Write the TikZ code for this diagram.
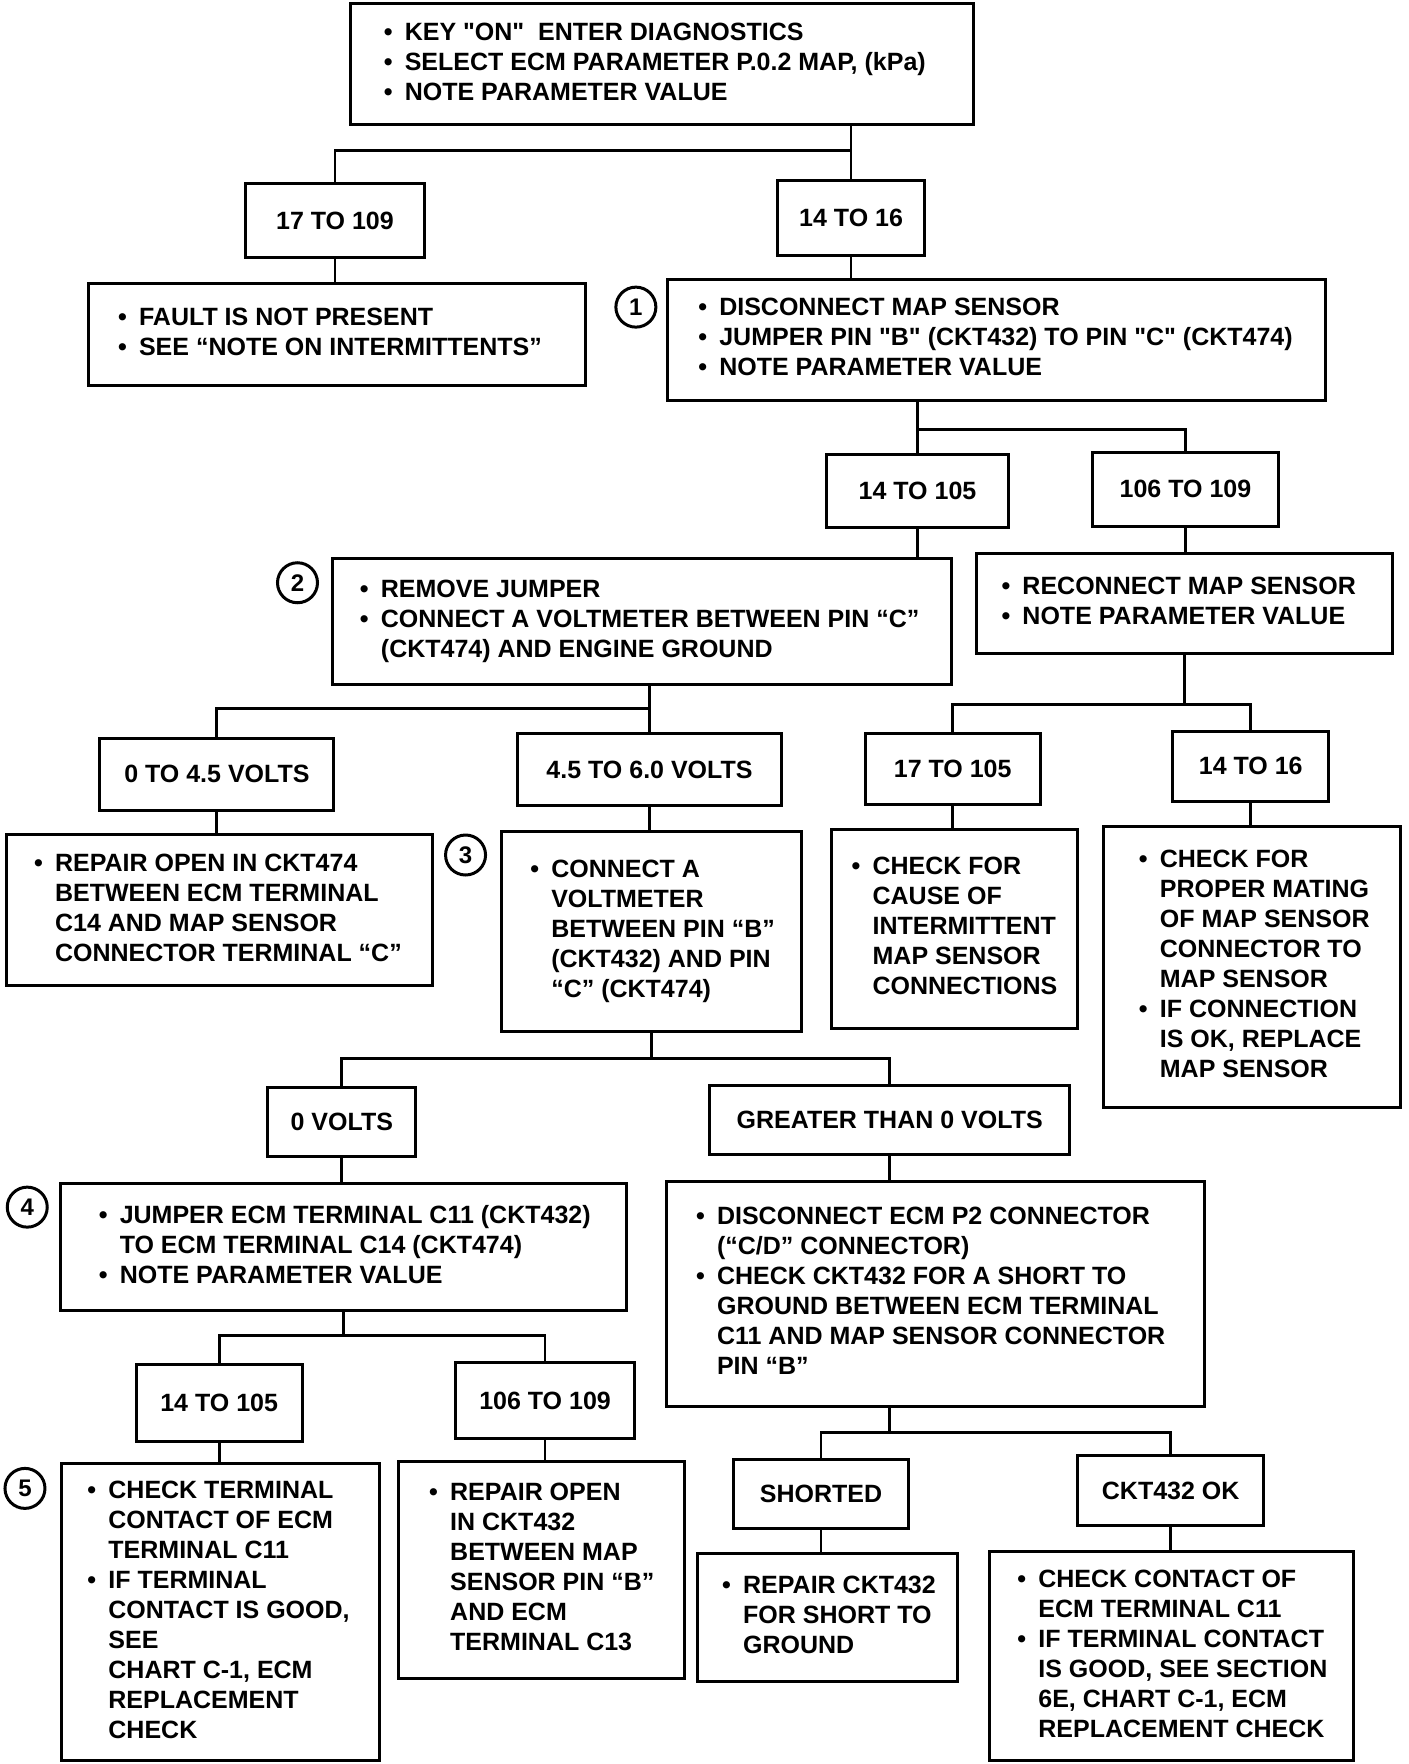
\documentclass[tikz,border=0pt]{standalone}
\usepackage{fontspec}
\setmainfont{Liberation Sans}
\usepackage{tikz}

\newcommand{\bul}{\makebox[21pt][l]{\textbullet}}
\newcommand{\ind}{\hspace*{21pt}}
\newcommand{\sq}{\textquotedbl}
\newcommand{\chartbox}[7]{%
  \pgfmathsetmacro{\cbw}{(#4-#2)*1.1355}%
  \pgfmathsetmacro{\cbh}{(#5-#3)*1.125}%
  \pgfmathsetmacro{\cbi}{#6*1.1355}%
  \pgfmathsetmacro{\cbt}{\cbw-2*\cbi}%
  \node[box, minimum width=\cbw pt, minimum height=\cbh pt, inner xsep=\cbi pt] (#1) at ({(#2+#4)/2},{(#3+#5)/2})
    {\makebox[\cbt pt][l]{\begin{tabular}{@{}l@{}}#7\end{tabular}}};}
\newcommand{\rangebox}[6]{%
  \pgfmathsetmacro{\cbw}{(#4-#2)*1.1355}%
  \pgfmathsetmacro{\cbh}{(#5-#3)*1.125}%
  \node[box, minimum width=\cbw pt, minimum height=\cbh pt] (#1) at ({(#2+#4)/2},{(#3+#5)/2}) {#6};}

\begin{document}
\begin{tikzpicture}[x=1.1355pt, y=-1.125pt,
                    box/.style={draw, line width=3pt, inner ysep=0pt,
                                font=\bfseries\fontsize{25}{30}\selectfont},
                    link/.style={line width=2.8pt},
                    numcirc/.style={draw, circle, line width=3pt, minimum size=40pt, inner sep=0pt,
                                    font=\bfseries\fontsize{24}{24}\selectfont}]
\useasboundingbox (0,0) rectangle (1240,1568);

\chartbox{A}{309}{3}{857}{111}{29}{\bul KEY \sq ON\sq\ \ ENTER DIAGNOSTICS\\ \bul SELECT ECM PARAMETER P.0.2 MAP, (kPa)\\ \bul NOTE PARAMETER VALUE}
\rangebox{r17a}{216}{163}{374}{229}{17 TO 109}
\rangebox{r14a}{685}{160}{814}{227}{14 TO 16}
\chartbox{B1}{78}{252}{516}{343}{26}{\bul FAULT IS NOT PRESENT\\ \bul SEE ``NOTE ON INTERMITTENTS''}
\chartbox{C}{588}{248}{1167}{356}{27}{\bul DISCONNECT MAP SENSOR\\ \bul JUMPER PIN \sq B\sq\ (CKT432) TO PIN \sq C\sq\ (CKT474)\\ \bul NOTE PARAMETER VALUE}
\node[numcirc] (num1) at (560,273) {1};

\rangebox{r14b}{728}{404}{888}{469}{14 TO 105}
\rangebox{r106a}{962}{402}{1126}{468}{106 TO 109}
\chartbox{D}{293}{496}{838}{608}{24}{\bul REMOVE JUMPER\\ \bul CONNECT A VOLTMETER BETWEEN PIN ``C''\\ \ind (CKT474) AND ENGINE GROUND}
\node[numcirc] (num2) at (262,518) {2};
\chartbox{E}{860}{492}{1226}{581}{22}{\bul RECONNECT MAP SENSOR\\ \bul NOTE PARAMETER VALUE}

\rangebox{r0a}{88}{656}{294}{720}{0 TO 4.5 VOLTS}
\rangebox{r45}{456}{652}{688}{716}{4.5 TO 6.0 VOLTS}
\rangebox{r17b}{762}{652}{916}{715}{17 TO 105}
\rangebox{r14c}{1033}{650}{1170}{712}{14 TO 16}

\chartbox{R474}{6}{742}{381}{876}{24}{\bul REPAIR OPEN IN CKT474\\ \ind BETWEEN ECM TERMINAL\\ \ind C14 AND MAP SENSOR\\ \ind CONNECTOR TERMINAL ``C''}
\chartbox{B3}{442}{739}{706}{917}{25}{\bul CONNECT A\\ \ind VOLTMETER\\ \ind BETWEEN PIN ``B''\\ \ind (CKT432) AND PIN\\ \ind ``C'' (CKT474)}
\node[numcirc] (num3) at (410,760) {3};
\chartbox{cause}{732}{737}{949}{914}{18}{\bul CHECK FOR\\ \ind CAUSE OF\\ \ind INTERMITTENT\\ \ind MAP SENSOR\\ \ind CONNECTIONS}
\chartbox{mating}{972}{735}{1233}{984}{31}{\bul CHECK FOR\\ \ind PROPER MATING\\ \ind OF MAP SENSOR\\ \ind CONNECTOR TO\\ \ind MAP SENSOR\\ \bul IF CONNECTION\\ \ind IS OK, REPLACE\\ \ind MAP SENSOR}

\rangebox{r0v}{236}{967}{366}{1028}{0 VOLTS}
\rangebox{rgt}{625}{965}{942}{1026}{GREATER THAN 0 VOLTS}
\chartbox{B4}{53}{1052}{552}{1165}{34}{\bul JUMPER ECM TERMINAL C11 (CKT432)\\ \ind TO ECM TERMINAL C14 (CKT474)\\ \bul NOTE PARAMETER VALUE}
\node[numcirc] (num4) at (24,1073) {4};
\chartbox{F}{587}{1050}{1061}{1250}{26}{\bul DISCONNECT ECM P2 CONNECTOR\\ \ind (``C/D'' CONNECTOR)\\ \bul CHECK CKT432 FOR A SHORT TO\\ \ind GROUND BETWEEN ECM TERMINAL\\ \ind C11 AND MAP SENSOR CONNECTOR\\ \ind PIN ``B''}

\rangebox{r14d}{120}{1213}{266}{1281}{14 TO 105}
\rangebox{r106b}{401}{1211}{559}{1279}{106 TO 109}
\rangebox{rsh}{646}{1297}{800}{1359}{SHORTED}
\rangebox{rok}{949}{1294}{1113}{1356}{CKT432 OK}

\chartbox{B5}{54}{1301}{334}{1565}{23}{\bul CHECK TERMINAL\\ \ind CONTACT OF ECM\\ \ind TERMINAL C11\\ \bul IF TERMINAL\\ \ind CONTACT IS GOOD,\\ \ind SEE\\ \ind CHART C-1, ECM\\ \ind REPLACEMENT\\ \ind CHECK}
\node[numcirc] (num5) at (22,1323) {5};
\chartbox{R432}{351}{1299}{603}{1492}{27}{\bul REPAIR OPEN\\ \ind IN CKT432\\ \ind BETWEEN MAP\\ \ind SENSOR PIN ``B''\\ \ind AND ECM\\ \ind TERMINAL C13}
\chartbox{RS}{614}{1381}{843}{1495}{22}{\bul REPAIR CKT432\\ \ind FOR SHORT TO\\ \ind GROUND}
\chartbox{last}{871}{1379}{1192}{1565}{25}{\bul CHECK CONTACT OF\\ \ind ECM TERMINAL C11\\ \bul IF TERMINAL CONTACT\\ \ind IS GOOD, SEE SECTION\\ \ind 6E, CHART C-1, ECM\\ \ind REPLACEMENT CHECK}

\draw[link] (A.south -| r14a.north) -- (r14a.north);
\draw[link] (r17a.north) |- (r14a.north |- 0,134);
\draw[link] (r17a.south) -- (r17a.south |- B1.north);
\draw[link] (r14a.south) -- (r14a.south |- C.north);

\draw[link] (C.south -| r14b.north) -- (r14b.north);
\draw[link] (r106a.north) |- (r14b.north |- 0,382);
\draw[link] (r14b.south) -- (r14b.south |- D.north);
\draw[link] (r106a.south) -- (r106a.south |- E.north);

\draw[link] (D.south -| r45.north) -- (r45.north);
\draw[link] (r0a.north) |- (r45.north |- 0,630);
\draw[link] (r0a.south) -- (r0a.south |- R474.north);
\draw[link] (r45.south) -- (r45.south |- B3.north);

\draw[link] (E.south) -- (E.south |- 0,626);
\draw[link] (r17b.north) |- (r14c.north |- 0,626) -- (r14c.north);
\draw[link] (r17b.south) -- (r17b.south |- cause.north);
\draw[link] (r14c.south) -- (r14c.south |- mating.north);

\draw[link] (B3.south) -- (B3.south |- 0,941);
\draw[link] (r0v.north) |- (rgt.north |- 0,941) -- (rgt.north);
\draw[link] (r0v.south) -- (r0v.south |- B4.north);
\draw[link] (rgt.south) -- (rgt.south |- F.north);

\draw[link] (B4.south) -- (B4.south |- 0,1187);
\draw[link] (r14d.north) |- (r106b.north |- 0,1187) -- (r106b.north);
\draw[link] (r14d.south) -- (r14d.south |- B5.north);
\draw[link] (r106b.south) -- (r106b.south |- R432.north);

\draw[link] (F.south -| rgt.south) -- (rgt.south |- 0,1273);
\draw[link] (rsh.north) |- (rok.north |- 0,1273) -- (rok.north);
\draw[link] (rsh.south) -- (rsh.south |- RS.north);
\draw[link] (rok.south) -- (rok.south |- last.north);
\end{tikzpicture}
\end{document}
